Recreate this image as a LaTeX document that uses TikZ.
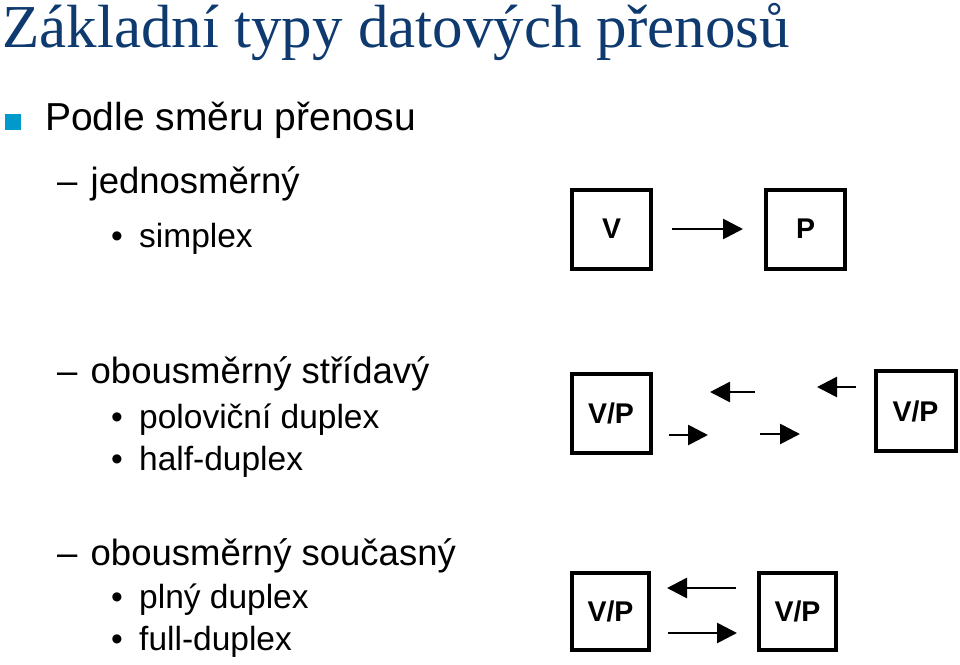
\documentclass[tikz,border=0pt]{standalone}
\usepackage{fontspec}
\setmainfont{Liberation Sans}
\newfontfamily\headfont{Liberation Serif}
\usetikzlibrary{arrows.meta, positioning}
\definecolor{headblue}{RGB}{14,58,112}
\definecolor{bulletcyan}{RGB}{0,153,204}
\tikzset{
x=1pt, y=-1pt, % one unit is one pixel, y grows downwards
station/.style={draw, line width=4pt, minimum size=79pt, inner sep=0pt, font=\bfseries\fontsize{28.5}{30}\selectfont}, % sets the look of each V/P box
flow/.style={line width=2.7pt, -{Triangle[length=20pt, width=20pt]}}, % arrow for the data going over
textline/.style={anchor=base west, inner sep=0pt}, % every text line sits on its baseline
heading/.style={textline, text=headblue, font=\headfont\fontsize{61}{64}\selectfont},
levelone/.style={textline, font=\fontsize{39}{42}\selectfont},
leveltwo/.style={textline, font=\fontsize{36.5}{40}\selectfont},
levelthree/.style={textline, font=\fontsize{33.5}{37}\selectfont},
}

\begin{document}
\begin{tikzpicture}
\useasboundingbox (0,0) rectangle (960,664);

% headline and the list
\node[heading] at (2,47) (title) {Základní typy datových přenosů};
\node[fill=bulletcyan, minimum size=16pt, inner sep=0pt] at (13,121.5) (sq) {};
\node[levelone] at (45,130) (dir) {Podle směru přenosu};

\node[leveltwo] at (57,193) (d1) {–};
\node[leveltwo] at (90.5,193) (one) {jednosměrný};
\node[levelthree] at (111,247) (b1) {•};
\node[levelthree] at (139,247) (simplex) {simplex};

\node[leveltwo] at (57,383) (d2) {–};
\node[leveltwo] at (90.5,383) (alt) {obousměrný střídavý};
\node[levelthree] at (111,428) (b2) {•};
\node[levelthree] at (139,428) (halfcz) {poloviční duplex};
\node[levelthree] at (111,470) (b3) {•};
\node[levelthree] at (139,470) (half) {half-duplex};

\node[leveltwo] at (57,565) (d3) {–};
\node[leveltwo] at (90.5,565) (both) {obousměrný současný};
\node[levelthree] at (111,608) (b4) {•};
\node[levelthree] at (139,608) (fullcz) {plný duplex};
\node[levelthree] at (111,650) (b5) {•};
\node[levelthree] at (139,650) (full) {full-duplex};

% simplex
\node[station] at (611.5,229) (V) {V};
\node[station] at (805.5,229) (P) {P};
\draw[flow, shorten <=19pt, shorten >=21pt] (V) -- (P);

% half-duplex
\node[station] at (611,413.5) (hd1) {V/P};
\node[station, minimum size=80pt] at (915.5,411) (hd2) {V/P};
\coordinate (a1s) at (755,392);
\coordinate (a1e) at (710,392);
\coordinate (a2s) at (856,387);
\coordinate (a2e) at (817,387);
\coordinate (b1s) at (669,435);
\coordinate (b1e) at (708,435);
\coordinate (b2s) at (760,434);
\coordinate (b2e) at (800,434);
\draw[flow] (a1s) -- (a1e);
\draw[flow] (a2s) -- (a2e);
\draw[flow] (b1s) -- (b1e);
\draw[flow] (b2s) -- (b2e);

% full-duplex
\node[station, minimum size=77pt] at (610.5,611) (fd1) {V/P};
\node[station, minimum size=77pt] at (797.5,611) (fd2) {V/P};
\draw[flow, shorten <=21pt, shorten >=16pt] ([yshift=23pt]fd2.west) -- ([yshift=23pt]fd1.east);
\draw[flow, shorten <=17pt, shorten >=20pt] ([yshift=-22pt]fd1.east) -- ([yshift=-22pt]fd2.west);
\end{tikzpicture}
\end{document}
